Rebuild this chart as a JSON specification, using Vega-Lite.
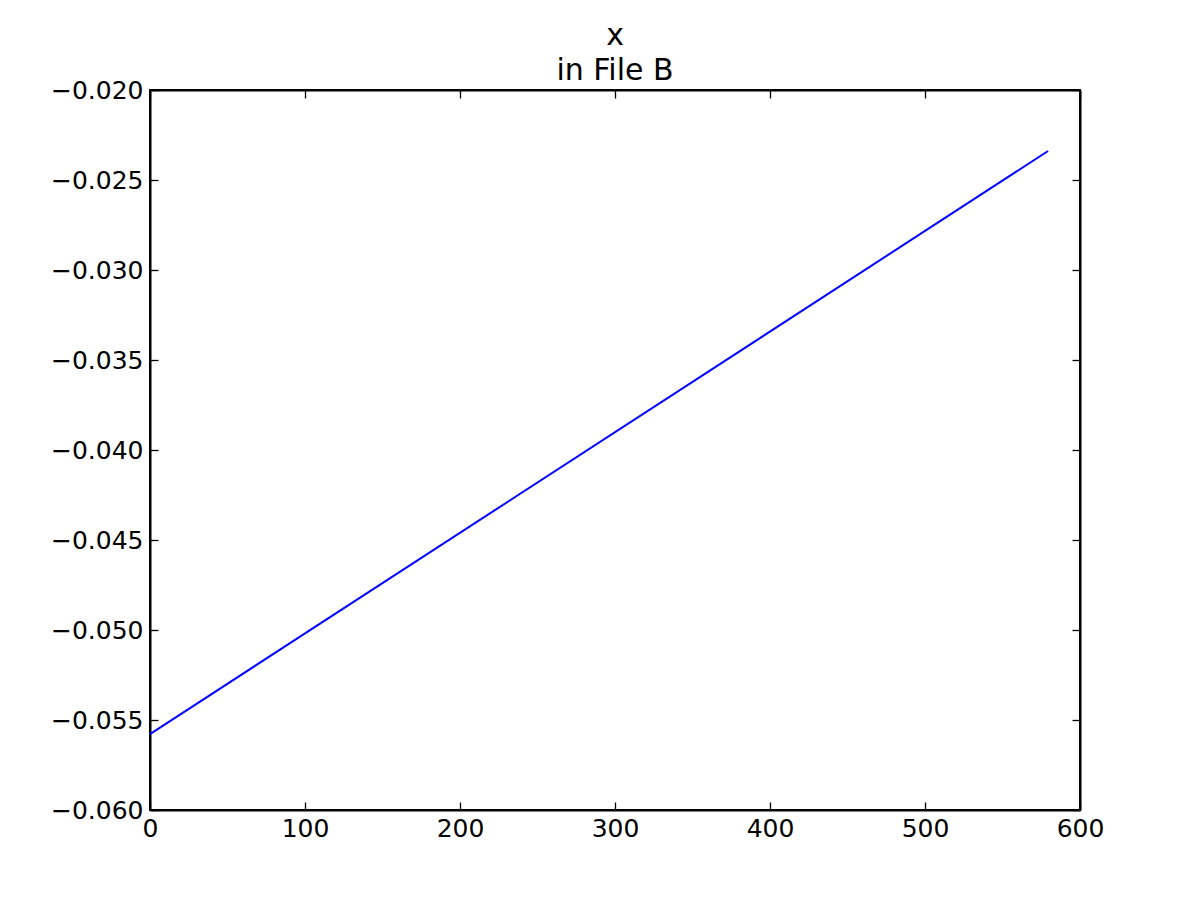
{
  "$schema": "https://vega.github.io/schema/vega-lite/v6.json",
  "width": 930,
  "height": 720,
  "autosize": "none",
  "padding": {"left": 150, "top": 90, "right": 120, "bottom": 90},
  "background": "white",
  "config": {
    "font": "DejaVu Sans",
    "view": {"stroke": "black", "strokeWidth": 2},
    "title": {"fontSize": 30, "fontWeight": "normal", "color": "black"},
    "axis": {"grid": false, "domainColor": "black", "tickColor": "black", "labelColor": "black", "labelFont": "DejaVu Sans", "labelFontSize": 25, "tickSize": -8, "domainWidth": 2, "tickWidth": 1.3, "labelFlush": false, "labelOverlap": false}
  },
  "title": {"text": ["x", "in File B"], "fontSize": 30, "fontWeight": "normal", "font": "DejaVu Sans", "color": "black", "anchor": "middle", "offset": -8, "lineHeight": 35},
  "data": {"values": [
    {"step": 0, "value": -0.05578},
    {"step": 579.4, "value": -0.02339}
  ]},
  "layer": [
    {
      "mark": {"type": "line", "color": "#0000ff", "strokeWidth": 2},
      "encoding": {
        "x": {"field": "step", "type": "quantitative", "scale": {"domain": [0, 600], "nice": false}, "axis": {"orient": "bottom", "title": null, "values": [0,100,200,300,400,500,600], "labelPadding": 14, "labelFontSize": 25}},
        "y": {"field": "value", "type": "quantitative", "scale": {"domain": [-0.06, -0.02], "nice": false, "zero": false}, "axis": {"orient": "left", "title": null, "values": [-0.06,-0.055,-0.05,-0.045,-0.04,-0.035,-0.03,-0.025,-0.02], "format": ".3f", "labelPadding": 15, "labelFontSize": 25}}
      }
    },
    {
      "mark": {"type": "line", "opacity": 0},
      "encoding": {
        "x": {"field": "step", "type": "quantitative", "scale": {"domain": [0, 600], "nice": false}, "axis": {"orient": "top", "title": null, "labels": false, "values": [0,100,200,300,400,500,600]}},
        "y": {"field": "value", "type": "quantitative", "scale": {"domain": [-0.06, -0.02], "nice": false, "zero": false}, "axis": {"orient": "right", "title": null, "labels": false, "values": [-0.06,-0.055,-0.05,-0.045,-0.04,-0.035,-0.03,-0.025,-0.02]}}
      }
    }
  ],
  "resolve": {"axis": {"x": "independent", "y": "independent"}}
}
